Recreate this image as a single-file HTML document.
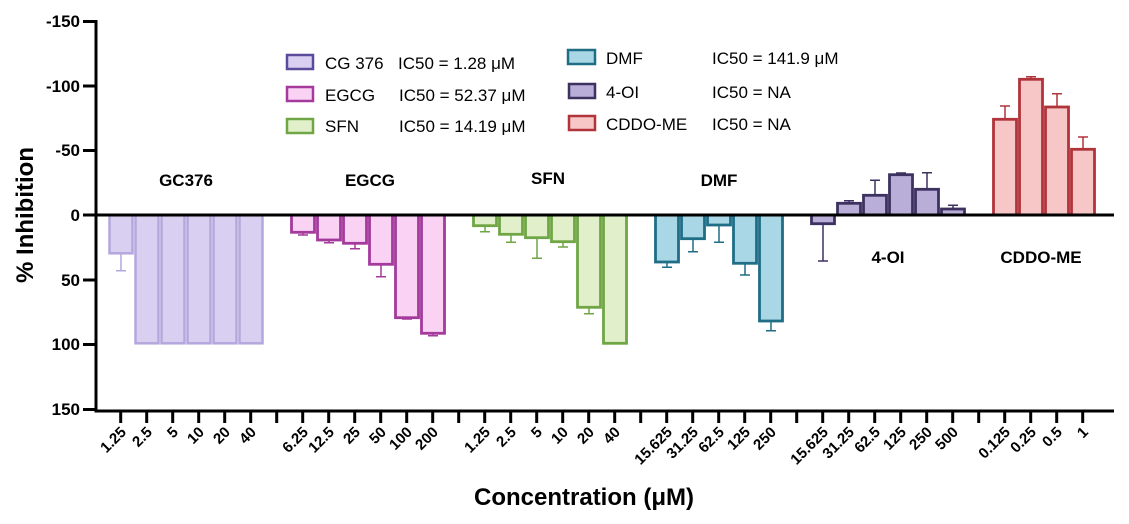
<!DOCTYPE html>
<html><head><meta charset="utf-8"><style>
html,body{margin:0;padding:0;background:#fff;}
svg{display:block;font-family:"Liberation Sans",Arial,sans-serif;}
.tl{font-size:15px;font-weight:bold;text-anchor:end;}
.yl{font-size:17px;font-weight:bold;text-anchor:end;}
.gl{font-size:17px;font-weight:bold;text-anchor:middle;}
.lg{font-size:17px;}
</style></head><body>
<svg width="1129" height="524" viewBox="0 0 1129 524" xmlns="http://www.w3.org/2000/svg">
<g fill="#d9cff0" stroke="#b4a7dd" stroke-width="2.5">
<rect x="109.5" y="215" width="23" height="38.3"/>
<rect x="135.5" y="215" width="23" height="128.3"/>
<rect x="161.5" y="215" width="23" height="128.3"/>
<rect x="187.5" y="215" width="23" height="128.3"/>
<rect x="213.5" y="215" width="23" height="128.3"/>
<rect x="239.5" y="215" width="23" height="128.3"/>
</g>
<g stroke="#b4a7dd" stroke-width="1.5"><path d="M121 253v17.7M116 270.7h10"/></g>
<g fill="#f9d2f4" stroke="#a43a9c" stroke-width="2.8">
<rect x="291.5" y="215" width="23" height="17.3"/>
<rect x="317.5" y="215" width="23" height="25"/>
<rect x="343.5" y="215" width="23" height="28.3"/>
<rect x="369.5" y="215" width="23" height="49.3"/>
<rect x="395.5" y="215" width="23" height="102.7"/>
<rect x="421.5" y="215" width="23" height="118.3"/>
</g>
<g stroke="#a43a9c" stroke-width="1.5"><path d="M303 232v3M298 235h10M329 240v2.7M324 242.7h10M355 243v5.7M350 248.7h10M381 264v12.7M376 276.7h10M407 317v2M402 319h10M433 333v2.7M428 335.7h10"/></g>
<g fill="#e1f0ca" stroke="#70a645" stroke-width="2.8">
<rect x="473.5" y="215" width="23" height="10.7"/>
<rect x="499.5" y="215" width="23" height="19.3"/>
<rect x="525.5" y="215" width="23" height="22.7"/>
<rect x="551.5" y="215" width="23" height="26.7"/>
<rect x="577.5" y="215" width="23" height="92.3"/>
<rect x="603.5" y="215" width="23" height="128.3"/>
</g>
<g stroke="#70a645" stroke-width="1.5"><path d="M485 225v6.7M480 231.7h10M511 234v8.3M506 242.3h10M537 237v21.3M532 258.3h10M563 241v6M558 247h10M589 307v6.7M584 313.7h10"/></g>
<g fill="#aad7e6" stroke="#1f6e86" stroke-width="2.8">
<rect x="655.5" y="215" width="23" height="47"/>
<rect x="681.5" y="215" width="23" height="23.7"/>
<rect x="707.5" y="215" width="23" height="10"/>
<rect x="733.5" y="215" width="23" height="48.3"/>
<rect x="759.5" y="215" width="23" height="106"/>
</g>
<g stroke="#1f6e86" stroke-width="1.5"><path d="M667 262v5.3M662 267.3h10M693 238v13.7M688 251.7h10M719 225v17.3M714 242.3h10M745 263v12M740 275h10M771 321v9.7M766 330.7h10"/></g>
<g fill="#b8aed7" stroke="#3d3160" stroke-width="2.8">
<rect x="811.5" y="215" width="23" height="8.7"/>
<rect x="837.5" y="203.3" width="23" height="11.7"/>
<rect x="863.5" y="195.3" width="23" height="19.7"/>
<rect x="889.5" y="174.7" width="23" height="40.3"/>
<rect x="915.5" y="189.3" width="23" height="25.7"/>
<rect x="941.5" y="209" width="23" height="6"/>
</g>
<g stroke="#3d3160" stroke-width="1.5"><path d="M823 224v37M818 261h10M849 203v-2.3M844 200.7h10M875 195v-14.7M870 180.3h10M901 175v-2M896 173h10M927 189v-16.3M922 172.7h10M953 209v-3.7M948 205.3h10"/></g>
<g fill="#f7c7c8" stroke="#b0343a" stroke-width="2.8">
<rect x="993.5" y="119.3" width="23" height="95.7"/>
<rect x="1019.5" y="79.3" width="23" height="135.7"/>
<rect x="1045.5" y="107" width="23" height="108"/>
<rect x="1071.5" y="149.3" width="23" height="65.7"/>
</g>
<g stroke="#b0343a" stroke-width="1.5"><path d="M1005 119v-13M1000 106h10M1031 79v-2.3M1026 76.7h10M1057 107v-13.3M1052 93.7h10M1083 149v-12.3M1078 137h10"/></g>

<g stroke="#000" stroke-width="3" fill="none">
<path d="M96 20V411H1114"/>
<path d="M96 215H1114"/>
<path d="M83 21.5H96M83 86H96M83 150.5H96M83 215H96M83 280H96M83 344.5H96M83 409.5H96"/>
</g>
<g stroke="#000" stroke-width="3">
<path d="M120.7 411v12M146.7 411v12M172.7 411v12M198.7 411v12M224.7 411v12M250.7 411v12M276.7 411v12M302.7 411v12M328.7 411v12M354.7 411v12M380.7 411v12M406.7 411v12M432.7 411v12M458.7 411v12M484.7 411v12M510.7 411v12M536.7 411v12M562.7 411v12M588.7 411v12M614.7 411v12M640.7 411v12M666.7 411v12M692.7 411v12M718.7 411v12M744.7 411v12M770.7 411v12M796.7 411v12M822.7 411v12M848.7 411v12M874.7 411v12M900.7 411v12M926.7 411v12M952.7 411v12M978.7 411v12M1004.7 411v12M1030.7 411v12M1056.7 411v12M1082.7 411v12"/>
</g>
<g class="yl">
<text x="80" y="27">-150</text>
<text x="80" y="92">-100</text>
<text x="80" y="156">-50</text>
<text x="80" y="221">0</text>
<text x="80" y="286">50</text>
<text x="80" y="350">100</text>
<text x="80" y="415">150</text>
</g>
<text transform="translate(33,215) rotate(-90)" style="font-size:24px;font-weight:bold;text-anchor:middle">% Inhibition</text>
<text x="584" y="505" style="font-size:24px;font-weight:bold;text-anchor:middle">Concentration (μM)</text>

<g class="tl">
<text transform="translate(127,433) rotate(-45)">1.25</text>
<text transform="translate(153,433) rotate(-45)">2.5</text>
<text transform="translate(179,433) rotate(-45)">5</text>
<text transform="translate(205,433) rotate(-45)">10</text>
<text transform="translate(231,433) rotate(-45)">20</text>
<text transform="translate(257,433) rotate(-45)">40</text>
<text transform="translate(309,433) rotate(-45)">6.25</text>
<text transform="translate(335,433) rotate(-45)">12.5</text>
<text transform="translate(361,433) rotate(-45)">25</text>
<text transform="translate(387,433) rotate(-45)">50</text>
<text transform="translate(413,433) rotate(-45)">100</text>
<text transform="translate(439,433) rotate(-45)">200</text>
<text transform="translate(491,433) rotate(-45)">1.25</text>
<text transform="translate(517,433) rotate(-45)">2.5</text>
<text transform="translate(543,433) rotate(-45)">5</text>
<text transform="translate(569,433) rotate(-45)">10</text>
<text transform="translate(595,433) rotate(-45)">20</text>
<text transform="translate(621,433) rotate(-45)">40</text>
<text transform="translate(673,433) rotate(-45)">15.625</text>
<text transform="translate(699,433) rotate(-45)">31.25</text>
<text transform="translate(725,433) rotate(-45)">62.5</text>
<text transform="translate(751,433) rotate(-45)">125</text>
<text transform="translate(777,433) rotate(-45)">250</text>
<text transform="translate(829,433) rotate(-45)">15.625</text>
<text transform="translate(855,433) rotate(-45)">31.25</text>
<text transform="translate(881,433) rotate(-45)">62.5</text>
<text transform="translate(907,433) rotate(-45)">125</text>
<text transform="translate(933,433) rotate(-45)">250</text>
<text transform="translate(959,433) rotate(-45)">500</text>
<text transform="translate(1011,433) rotate(-45)">0.125</text>
<text transform="translate(1037,433) rotate(-45)">0.25</text>
<text transform="translate(1063,433) rotate(-45)">0.5</text>
<text transform="translate(1089,433) rotate(-45)">1</text>
</g>

<g class="gl">
<text x="186" y="186">GC376</text>
<text x="370" y="186">EGCG</text>
<text x="548" y="184">SFN</text>
<text x="719" y="186">DMF</text>
<text x="888" y="263">4-OI</text>
<text x="1041" y="263">CDDO-ME</text>
</g>

<rect x="287" y="55" width="26" height="14" fill="#d9cff0" stroke="#5c4a9c" stroke-width="2.5"/>
<rect x="287" y="87" width="26" height="14" fill="#f9d2f4" stroke="#a43a9c" stroke-width="2.5"/>
<rect x="287" y="119" width="26" height="14" fill="#e1f0ca" stroke="#70a645" stroke-width="2.5"/>
<g class="lg">
<text x="325" y="69">CG 376</text><text x="398" y="69">IC50 = 1.28 μM</text>
<text x="325" y="101">EGCG</text><text x="399" y="101">IC50 = 52.37 μM</text>
<text x="325" y="132">SFN</text><text x="399" y="132">IC50 = 14.19 μM</text>
</g>
<rect x="568" y="50" width="27" height="14" fill="#aad7e6" stroke="#1f6e86" stroke-width="2.5"/>
<rect x="569" y="84" width="26" height="14" fill="#b8aed7" stroke="#3d3160" stroke-width="2.5"/>
<rect x="569" y="116" width="26" height="14" fill="#f7c7c8" stroke="#b0343a" stroke-width="2.5"/>
<g class="lg">
<text x="606" y="64">DMF</text><text x="712" y="64">IC50 = 141.9 μM</text>
<text x="606" y="98">4-OI</text><text x="712" y="98">IC50  = NA</text>
<text x="606" y="130">CDDO-ME</text><text x="712" y="130">IC50  = NA</text>
</g>
</svg>
</body></html>
